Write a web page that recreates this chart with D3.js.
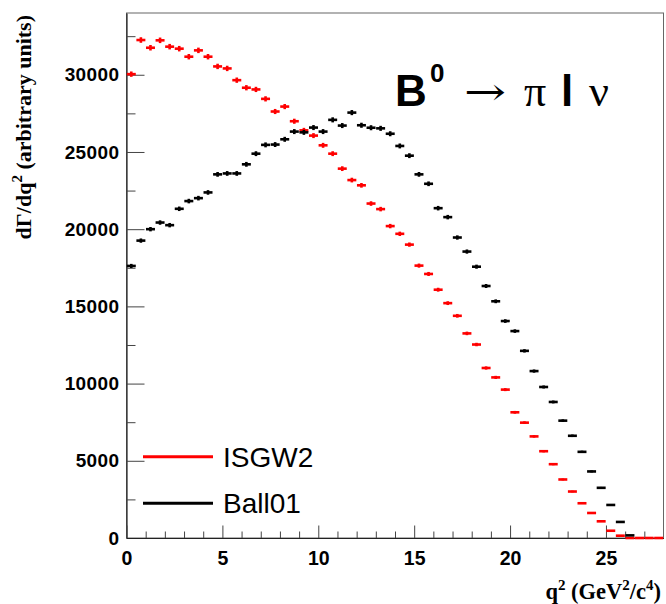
<!DOCTYPE html>
<html>
<head>
<meta charset="utf-8">
<script src="https://cdn.jsdelivr.net/npm/d3@7"></script>
<style>
  body { margin: 0; background: #fff; }
</style>
</head>
<body>
<div id="canvas"></div>
<script>
// Constants
const w = 666;
const h = 604;
const plot = { left: 126.5, right: 663.5, top: 13, bottom: 538 };

// q2 bin centres (bins of 0.5 GeV2/c4)
const q2 = [0.25, 0.75, 1.25, 1.75, 2.25, 2.75, 3.25, 3.75, 4.25, 4.75,
  5.25, 5.75, 6.25, 6.75, 7.25, 7.75, 8.25, 8.75, 9.25, 9.75,
  10.25, 10.75, 11.25, 11.75, 12.25, 12.75, 13.25, 13.75, 14.25, 14.75,
  15.25, 15.75, 16.25, 16.75, 17.25, 17.75, 18.25, 18.75, 19.25, 19.75,
  20.25, 20.75, 21.25, 21.75, 22.25, 22.75, 23.25, 23.75, 24.25, 24.75,
  25.25, 25.75, 26.25, 26.75, 27.25, 27.75];
const binWidth = 0.5;

// ISGW2 (red)
const isgw2 = [30040, 32250, 31750, 32230, 31820, 31690, 31170, 31580, 31170, 30540,
  30410, 29650, 29160, 29050, 28440, 27620, 27940, 26990, 26400, 26060,
  25430, 24890, 23920, 23180, 22840, 21660, 21300, 20200, 19700, 19000,
  17640, 17100, 16080, 15210, 14390, 13250, 12530, 11010, 10400, 9610,
  8140, 7470, 6580, 5620, 4780, 3790, 3010, 2250, 1620, 1080,
  470, 150, 0, 0, 0, 0];

// Ball01 (black)
const ball01 = [17620, 19260, 20000, 20430, 20260, 21320, 21820, 22010, 22380, 23550,
  23610, 23610, 24200, 24890, 25460, 25480, 25820, 26320, 26270, 26580,
  26320, 27080, 26710, 27550, 26730, 26570, 26530, 26180, 25390, 24760,
  23550, 22940, 21360, 20780, 19460, 18550, 17570, 16320, 15330, 14050,
  13400, 12120, 10810, 9780, 8810, 7600, 6620, 5580, 4310, 3250,
  2140, 1040, 170, 0, 0, 0];

const xTicks = [0, 5, 10, 15, 20, 25];
const xMinor = [1, 2, 3, 4, 6, 7, 8, 9, 11, 12, 13, 14, 16, 17, 18, 19, 21, 22, 23, 24, 26, 27];
const yTicks = [0, 5000, 10000, 15000, 20000, 25000, 30000];
const yMinor = [2500, 7500, 12500, 17500, 22500, 27500, 32500];

const series = [
  { name: "ISGW2", values: isgw2, color: "#ff0000", drawZero: true },
  { name: "Ball01", values: ball01, color: "#000000", drawZero: false }
];

const xScale = d3.scaleLinear().domain([0, 28]).range([plot.left, plot.right]);
const yScale = d3.scaleLinear().domain([0, 34000]).range([plot.bottom, plot.top]);

const svg = d3.select("#canvas").append("svg")
  .attr("width", w)
  .attr("height", h)
  .style("background-color", "white");

// Frame
svg.append("rect")
  .attr("x", plot.left)
  .attr("y", plot.top)
  .attr("width", plot.right - plot.left)
  .attr("height", plot.bottom - plot.top)
  .attr("fill", "none")
  .attr("stroke", "#666")
  .attr("stroke-width", 1);

// Y axis
function styleAxis(g) {
  g.select(".domain").attr("stroke", "#222").attr("stroke-width", 1.2);
  g.selectAll(".tick line").attr("stroke", "#444").attr("stroke-width", 1);
}

const yAxisGroup = svg.append("g")
  .attr("transform", `translate(${plot.left},0)`)
  .call(d3.axisLeft(yScale).tickValues(yTicks).tickSize(-18).tickPadding(7).tickSizeOuter(0).tickFormat(d3.format("d")));
styleAxis(yAxisGroup);
yAxisGroup.selectAll(".tick text")
  .attr("fill", "#000")
  .style("font-family", "'Liberation Sans', Arial, sans-serif")
  .style("font-weight", "bold")
  .style("font-size", "19px")
  .style("letter-spacing", "0.4px");

svg.append("g")
  .attr("transform", `translate(${plot.left},0)`)
  .call(d3.axisLeft(yScale).tickValues(yMinor).tickSize(-9).tickFormat("").tickSizeOuter(0))
  .call(g => g.select(".domain").remove())
  .selectAll(".tick line").attr("stroke", "#444");

// X axis
const xAxisGroup = svg.append("g")
  .attr("transform", `translate(0,${plot.bottom})`)
  .call(d3.axisBottom(xScale).tickValues(xTicks).tickSize(-12.5).tickPadding(13).tickSizeOuter(0));
styleAxis(xAxisGroup);
xAxisGroup.selectAll(".tick text")
  .attr("fill", "#000")
  .style("font-family", "'Liberation Sans', Arial, sans-serif")
  .style("font-weight", "bold")
  .style("font-size", "19.5px");

svg.append("g")
  .attr("transform", `translate(0,${plot.bottom})`)
  .call(d3.axisBottom(xScale).tickValues(xMinor).tickSize(-6.5).tickFormat("").tickSizeOuter(0))
  .call(g => g.select(".domain").remove())
  .selectAll(".tick line").attr("stroke", "#444");

// Histograms with error crosses
series.forEach(s => {
  const g = svg.append("g").attr("class", `hist-${s.name}`);
  const pts = q2.map((q, i) => ({ q, v: s.values[i] }))
    .filter(d => s.drawZero || d.v > 0);

  g.selectAll("line.hbar")
    .data(pts)
    .join("line")
    .attr("class", "hbar")
    .attr("x1", d => xScale(d.q - binWidth / 2) + 0.3)
    .attr("x2", d => xScale(d.q + binWidth / 2) - 0.3)
    .attr("y1", d => yScale(d.v))
    .attr("y2", d => yScale(d.v))
    .attr("stroke", s.color)
    .attr("stroke-width", 2.6);

  g.selectAll("line.vbar")
    .data(pts.filter(d => d.v > 0))
    .join("line")
    .attr("class", "vbar")
    .attr("x1", d => xScale(d.q))
    .attr("x2", d => xScale(d.q))
    .attr("y1", d => yScale(d.v - Math.sqrt(d.v)))
    .attr("y2", d => yScale(d.v + Math.sqrt(d.v)))
    .attr("stroke", s.color)
    .attr("stroke-width", 2.6);
});

// Axis titles
const yTitle = svg.append("text")
  .attr("transform", "translate(31,15) rotate(-90)")
  .attr("text-anchor", "end")
  .style("font-family", "'Liberation Serif', 'Times New Roman', serif")
  .style("font-weight", "bold")
  .style("font-size", "22px");
yTitle.append("tspan").text("dΓ/dq");
yTitle.append("tspan").attr("dy", -9).style("font-size", "15px").text("2");
yTitle.append("tspan").attr("dy", 9).text(" (arbitrary units)");

const xTitle = svg.append("text")
  .attr("x", 661)
  .attr("y", 599)
  .attr("text-anchor", "end")
  .style("font-family", "'Liberation Serif', 'Times New Roman', serif")
  .style("font-weight", "bold")
  .style("font-size", "22.5px");
xTitle.append("tspan").text("q");
xTitle.append("tspan").attr("dy", -9).style("font-size", "15px").text("2");
xTitle.append("tspan").attr("dy", 9).text(" (GeV");
xTitle.append("tspan").attr("dy", -9).style("font-size", "15px").text("2");
xTitle.append("tspan").attr("dy", 9).text("/c");
xTitle.append("tspan").attr("dy", -9).style("font-size", "15px").text("4");
xTitle.append("tspan").attr("dy", 9).text(")");

// Decay label
const sans = "'Liberation Sans', Arial, sans-serif";
const serif = "'Liberation Serif', 'DejaVu Serif', serif";
const label = [
  { t: "B", x: 395, y: 106, size: 44, font: sans, bold: true },
  { t: "0", x: 430, y: 82, size: 26, font: sans, bold: true },
  { t: "→", x: 464, y: 105, size: 38, font: "'DejaVu Serif', serif", bold: false, len: 42 },
  { t: "π", x: 524, y: 106, size: 44, font: serif, bold: false },
  { t: "l", x: 561, y: 106, size: 44, font: sans, bold: true },
  { t: "ν", x: 589, y: 106, size: 44, font: serif, bold: false }
];
label.forEach(d => {
  const t = svg.append("text")
    .attr("x", d.x)
    .attr("y", d.y)
    .style("font-family", d.font)
    .style("font-weight", d.bold ? "bold" : "normal")
    .style("font-size", `${d.size}px`)
    .text(d.t);
  if (d.len) t.attr("textLength", d.len).attr("lengthAdjust", "spacingAndGlyphs");
});

// Legend
const legend = svg.append("g");
series.forEach((s, i) => {
  const ly = 456.7 + i * 46.6;
  legend.append("line")
    .attr("x1", 143).attr("x2", 213)
    .attr("y1", ly).attr("y2", ly)
    .attr("stroke", s.color)
    .attr("stroke-width", 3);
  legend.append("text")
    .attr("x", 223)
    .attr("y", ly + 10)
    .style("font-family", sans)
    .style("font-size", "28px")
    .text(s.name);
});
</script>
</body>
</html>
